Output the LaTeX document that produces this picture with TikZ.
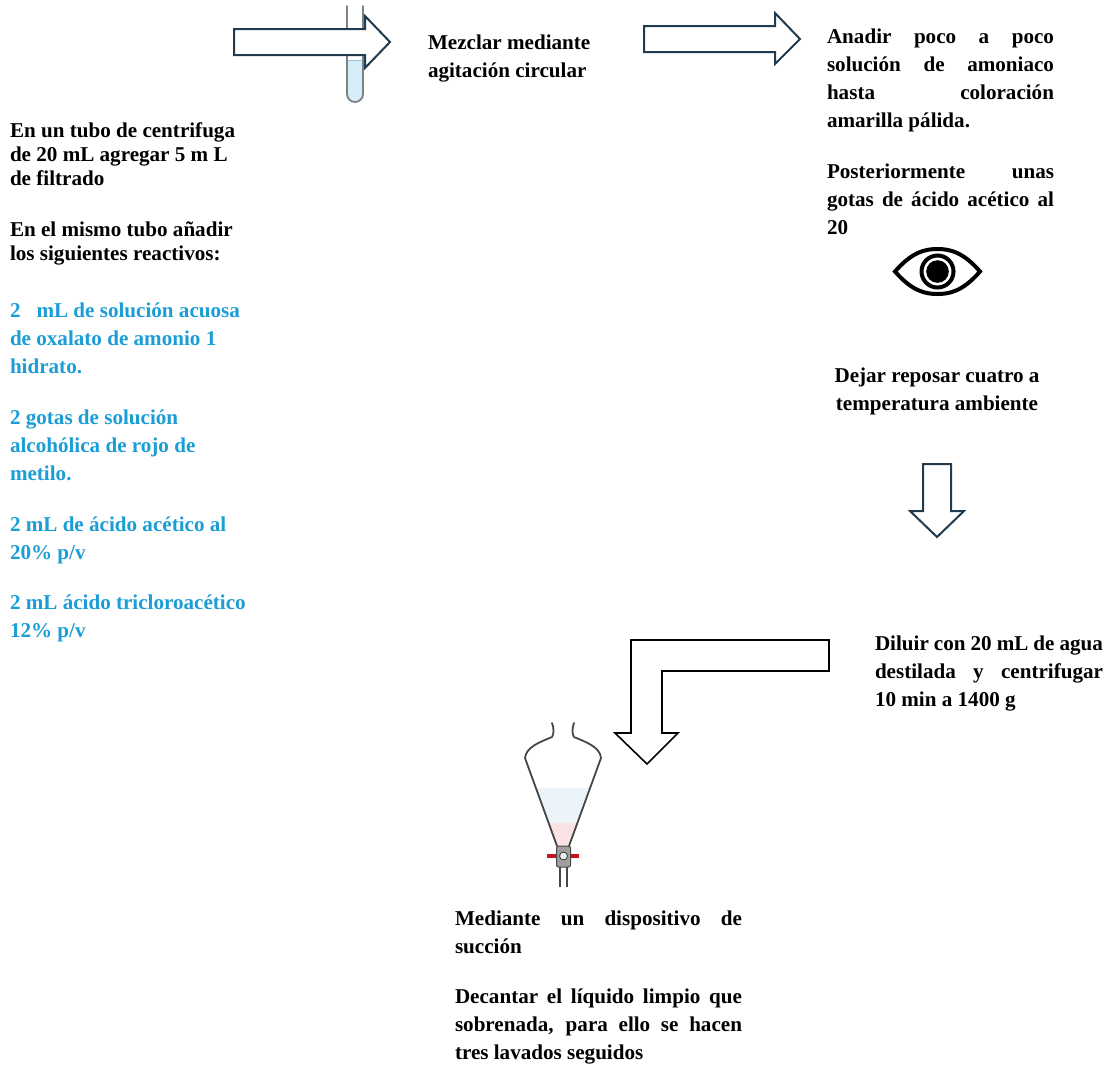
\documentclass[tikz,border=0pt]{standalone}
\usepackage{fontspec}
\setmainfont{Liberation Serif}
\definecolor{arrowc}{RGB}{31,59,77}
\definecolor{bluetxt}{RGB}{27,157,214}
\definecolor{tubec}{RGB}{120,130,135}
\definecolor{tubeliq}{RGB}{214,236,246}
\definecolor{menisc}{RGB}{150,200,225}
\definecolor{func}{RGB}{70,70,70}
\definecolor{funblue}{RGB}{234,244,249}
\definecolor{funpink}{RGB}{251,227,229}
\definecolor{cockred}{RGB}{200,16,30}
\newcommand\txtsp{\fontsize{21.1pt}{28.3pt}\selectfont\bfseries\tolerance=10000\hyphenpenalty=10000\relax}
\newcommand\txtsq{\fontsize{21.1pt}{24.2pt}\selectfont\bfseries\tolerance=10000\hyphenpenalty=10000\relax}
\tikzset{
  lefttxt/.style={inner sep=0pt, outer sep=0pt, anchor=base west, text width=#1, align=flush left, font=\txtsp},
  justtxt/.style={inner sep=0pt, outer sep=0pt, anchor=base west, text width=#1, align=justify, font=\txtsp},
  blockarrow/.style={draw=arrowc, fill=white, line width=2pt, line join=miter},
  bentarrow/.style={draw=black, fill=white, line width=1.6pt, line join=miter},
}
\begin{document}
\begin{tikzpicture}[x=1pt, y=-1pt]
\useasboundingbox (0,0) rectangle (1107,1069);

% test tube
\fill[tubeliq] (347,60) -- (347,94) arc[start angle=180, end angle=0, radius=8] -- (363,60) -- cycle;
\draw[menisc, line width=1pt] (348,60) -- (362,60);
\draw[tubec, line width=1.8pt, line cap=round] (347,6) -- (347,94) arc[start angle=180, end angle=0, radius=8] -- (363,6);

% block arrows
\draw[blockarrow] (234,29) -- (365,29) -- (365,16) -- (390,42) -- (365,68) -- (365,55) -- (234,55) -- cycle;
\draw[blockarrow] (644,26) -- (775,26) -- (775,13) -- (800,39) -- (775,64) -- (775,52) -- (644,52) -- cycle;
\draw[blockarrow] (923,464) -- (951,464) -- (951,511) -- (964,511) -- (937,537) -- (910,511) -- (923,511) -- cycle;
\draw[bentarrow] (829,640) -- (631,640) -- (631,733) -- (615,733) -- (647,764) -- (678,733) -- (662,733) -- (662,671) -- (829,671) -- cycle;

% eye
\draw[line width=4pt, line join=miter] (895,271.5) .. controls (912,252) and (925,249) .. (937.5,249) .. controls (950,249) and (963,252) .. (980,271.5) .. controls (963,291) and (950,294) .. (937.5,294) .. controls (925,294) and (912,291) .. (895,271.5) -- cycle;
\draw[line width=4pt] (937.5,271.5) circle[radius=16];
\fill (937.5,271.5) circle[radius=11.3];

% separatory funnel
\fill[funblue] (536,788) -- (590,788) -- (577.4,823) -- (548.6,823) -- cycle;
\fill[funpink] (548.6,823) -- (577.4,823) -- (569,846) -- (557,846) -- cycle;
\draw[func, line width=1.8pt, line cap=round, line join=round]
  (552,723) .. controls (554,728) and (554,734) .. (552,737) .. controls (540,742) and (526,747) .. (525,758) -- (557,846);
\draw[func, line width=1.8pt, line cap=round, line join=round]
  (574,723) .. controls (572,728) and (572,734) .. (574,737) .. controls (586,742) and (600,747) .. (601,758) -- (569,846);
\draw[func, line width=1.6pt] (560,866) -- (560,887) (567,866) -- (567,887);
\draw[cockred, line width=3.8pt] (547,856) -- (579,856);
\filldraw[fill=gray!75, draw=func, line width=1pt, rounded corners=2pt] (556.5,846) rectangle (570.5,867);
\filldraw[fill=gray!15, draw=gray!40!black, line width=0.8pt] (563.5,856) circle[radius=4];

% texts
\node[lefttxt=260pt, font=\txtsq] (t1) at (10,137) {En un tubo de centrifuga\\de 20 mL agregar 5 m L\\de filtrado};
\node[lefttxt=260pt, font=\txtsq] (t2) at (10,236) {En el mismo tubo añadir\\los siguientes reactivos:};
\node[lefttxt=260pt, text=bluetxt] (b1) at (10,317) {2\hspace{16pt}mL de solución acuosa\\de oxalato de amonio 1\\hidrato.};
\node[lefttxt=260pt, text=bluetxt] (b2) at (10,424) {2 gotas de solución\\alcohólica de rojo de\\metilo.};
\node[lefttxt=260pt, text=bluetxt] (b3) at (10,531) {2 mL de ácido acético al\\20\% p/v};
\node[lefttxt=260pt, text=bluetxt] (b4) at (10,609) {2 mL ácido tricloroacético\\12\% p/v};

\node[lefttxt=200pt] (mez) at (428,49) {Mezclar mediante\\agitación circular};

\node[justtxt=227pt] (r1) at (827,43) {Anadir poco a poco\linebreak solución de amoniaco\linebreak hasta coloración\linebreak amarilla pálida.};
\node[justtxt=227pt] (r2) at (827,178) {Posteriormente unas\linebreak gotas de ácido acético al\linebreak 20};

\node[inner sep=0pt, outer sep=0pt, anchor=base, text width=240pt, align=flush center, font=\txtsp] (dej) at (937,382) {Dejar reposar cuatro a\\temperatura ambiente};

\node[justtxt=228pt] (dil) at (875,650) {Diluir con 20 mL de agua\linebreak destilada y centrifugar\linebreak 10 min a 1400 g};

\node[justtxt=287pt] (m1) at (455,925) {Mediante un dispositivo de\linebreak succión};
\node[justtxt=287pt] (m2) at (455,1003) {Decantar el líquido limpio que\linebreak sobrenada, para ello se hacen\linebreak tres lavados seguidos};
\end{tikzpicture}
\end{document}
